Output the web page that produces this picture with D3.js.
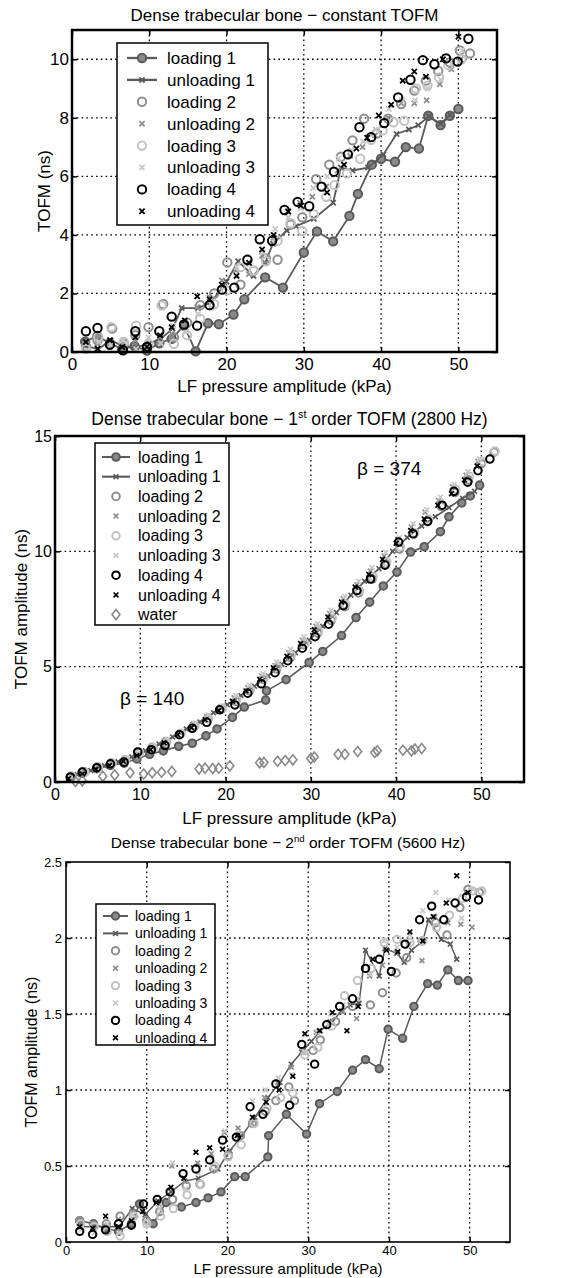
<!DOCTYPE html>
<html><head><meta charset="utf-8">
<script src="https://cdn.jsdelivr.net/npm/d3@7"></script>
<style>
body{margin:0;background:#fff}
svg{display:block}
text{font-family:"Liberation Sans",Arial,Helvetica,sans-serif;fill:#000}
</style>
</head><body><div id="chart"></div>
<script>
// ---------------- DATA ----------------
const seriesNames = ["loading 1","unloading 1","loading 2","unloading 2","loading 3","unloading 3","loading 4","unloading 4"];
const xTicks = [0,10,20,30,40,50];
const p1YTicks = [0,2,4,6,8,10];
const p2YTicks = [0,5,10,15];
const p3YTicks = [0,0.5,1,1.5,2,2.5];
const p3YTickLabels = ["0","0.5","1","1.5","2","2.5"];
const xLabel = "LF pressure amplitude (kPa)";

// Panel 1: constant TOFM (ns)
const p1Load1 = [[1.7,0.35],[3.3,0.55],[4.9,0.3],[6.5,0.1],[8.1,0.2],[9.7,0.05],[11.3,0.3],[12.9,0.45],[14.5,0.9],[16.0,0.02],[17.6,0.98],[19.0,0.95],[20.9,1.28],[22.3,1.8],[25.0,2.55],[27.3,2.2],[30.0,3.4],[31.7,4.12],[33.8,3.78],[35.9,4.65],[37.0,5.4],[38.8,6.4],[40.0,6.6],[41.8,6.5],[43.2,7.0],[44.9,6.95],[46.1,8.07],[47.7,7.75],[48.9,8.07],[50.0,8.3]];
const p1Unload1 = [[48.9,8.1],[47.7,7.8],[46.2,8.05],[44.8,7.75],[43.6,7.6],[42.0,7.45],[40.3,6.75],[38.3,6.3],[36.3,6.2],[34.8,6.3],[33.8,5.1],[31.3,4.55],[29.0,4.3],[27.8,4.15],[26.0,3.7],[25.0,3.05],[23.5,2.6],[21.5,3.1],[20.0,2.4],[18.0,1.7],[16.3,1.5],[14.2,1.5],[13.0,0.8],[11.5,0.45],[10.0,0.3],[8.3,0.15],[6.6,0.2],[5.0,0.4],[3.4,0.1],[1.8,0.2]];
const p1Load2 = [[1.8,0.2],[3.3,0.4],[5.2,0.8],[6.7,0.28],[8.2,0.57],[9.9,0.85],[11.8,1.64],[13.2,0.5],[14.9,1.0],[16.6,1.6],[18.4,2.0],[20.1,3.06],[21.8,2.3],[23.5,2.78],[25.1,3.2],[26.6,3.15],[28.3,4.35],[29.8,4.6],[31.6,5.9],[33.3,6.4],[34.8,6.67],[36.3,7.23],[37.8,7.97],[39.4,7.46],[40.9,7.97],[42.6,8.47],[44.3,8.93],[45.8,9.27],[47.4,9.6],[48.9,9.89],[50.2,10.3],[51.5,10.2]];
const p1Unload2 = [[1.8,0.28],[3.3,0.28],[4.9,0.17],[6.5,0.28],[8.2,0.4],[9.8,0.23],[11.4,0.51],[12.9,0.62],[14.7,0.96],[16.2,1.53],[17.8,1.87],[19.4,2.44],[21.2,2.78],[22.9,2.66],[24.6,3.29],[26.1,3.9],[27.9,4.8],[29.5,5.1],[31.1,5.3],[32.9,5.65],[34.4,6.2],[36.0,6.7],[37.6,7.0],[39.2,7.4],[40.9,8.0],[42.6,8.5],[44.3,8.5],[45.9,8.6],[47.6,9.15],[49.1,9.66],[50.3,10.0]];
const p1Load3 = [[1.8,0.1],[3.4,0.51],[5.1,0.85],[6.7,0.34],[8.3,0.9],[9.9,0.28],[11.6,1.59],[13.2,0.28],[14.9,0.57],[16.6,1.13],[18.4,1.64],[20.0,2.1],[21.8,2.9],[23.5,2.78],[25.1,3.1],[26.6,3.8],[28.3,4.4],[29.8,4.13],[31.3,4.7],[32.9,5.3],[34.0,5.7],[35.6,6.1],[37.3,6.6],[38.7,7.25],[40.2,7.57],[41.6,7.85],[43.0,7.9],[44.5,9.0],[46.0,9.1],[47.5,9.38],[48.7,9.8],[50.4,10.0]];
const p1Unload3 = [[1.9,0.05],[3.5,0.35],[5.0,0.25],[6.6,0.4],[8.3,0.1],[9.9,0.5],[11.5,0.3],[13.1,0.9],[14.8,0.7],[16.3,1.3],[18.0,1.5],[19.6,2.2],[21.3,2.9],[23.0,3.0],[24.7,3.4],[26.3,4.2],[28.0,4.6],[29.6,4.9],[31.2,5.6],[33.0,6.0],[34.5,6.6],[36.1,6.9],[37.7,7.2],[39.3,7.6],[41.0,8.3],[42.7,8.6],[44.4,8.6],[46.0,9.0],[47.7,9.3],[49.2,9.9],[50.5,10.3]];
const p1Load4 = [[1.8,0.71],[3.3,0.82],[4.9,0.25],[6.6,0.06],[8.2,0.71],[9.7,0.17],[11.3,0.71],[12.9,1.21],[14.5,0.94],[16.2,0.9],[17.8,1.6],[19.4,2.13],[21.0,2.2],[22.7,3.15],[24.3,3.85],[25.9,3.8],[27.5,4.85],[29.2,5.13],[30.7,4.98],[32.3,5.65],[33.9,6.16],[35.7,6.75],[37.2,7.68],[38.7,7.34],[40.4,7.82],[42.2,8.7],[43.8,9.3],[45.4,9.97],[46.9,9.83],[48.4,10.03],[49.9,9.92],[51.3,10.7]];
const p1Unload4 = [[1.8,0.34],[3.3,0.11],[4.9,0.4],[6.5,0.17],[8.2,0.5],[9.7,0.17],[11.4,0.57],[12.9,0.85],[14.6,1.08],[16.2,1.9],[17.8,1.8],[19.4,2.3],[21.3,2.6],[22.9,3.05],[24.6,3.5],[26.1,4.0],[28.0,4.8],[29.6,5.0],[33.0,5.45],[35.2,6.4],[36.8,6.95],[38.2,7.32],[39.7,8.08],[41.3,8.45],[42.8,9.27],[44.3,9.58],[45.8,9.4],[48.0,10.0],[50.0,10.77]];

// Panel 2: 1st order TOFM amplitude (ns)
const p2Load1 = [[1.8,0.19],[3.2,0.38],[4.9,0.58],[6.5,0.72],[8.1,0.82],[9.6,1.0],[11.1,1.2],[12.7,1.35],[14.5,1.55],[16.1,1.68],[17.7,2.0],[19.0,2.3],[20.8,2.8],[22.2,3.25],[24.7,3.55],[24.8,3.95],[27.1,4.44],[29.8,5.18],[31.4,5.66],[33.6,6.35],[35.3,7.13],[36.9,7.8],[38.5,8.5],[40.1,9.1],[41.7,9.97],[43.3,10.2],[45.2,10.85],[46.2,11.5],[47.7,12.1],[48.7,12.4],[49.8,12.87]];
const p2Unload1 = [[49.2,12.6],[47.8,12.3],[46.2,11.9],[44.6,11.5],[43.0,11.1],[41.3,10.6],[39.6,10.0],[38.0,9.25],[36.3,8.7],[34.7,8.1],[33.0,7.35],[31.4,6.75],[29.8,6.15],[28.2,5.6],[26.6,5.1],[25.0,4.6],[23.4,4.15],[21.8,3.75],[20.2,3.35],[18.6,3.0],[17.0,2.6],[15.4,2.3],[13.8,1.95],[12.2,1.65],[10.6,1.35],[9.0,1.08],[7.4,0.88],[5.8,0.7],[4.2,0.5],[2.6,0.32]];
const p2Load2 = [[1.9,0.25],[3.4,0.45],[5.0,0.65],[6.6,0.82],[8.2,0.95],[9.8,1.3],[11.4,1.5],[13.0,1.75],[14.7,2.1],[16.3,2.45],[17.9,2.75],[19.5,3.15],[21.2,3.5],[22.8,3.95],[24.4,4.45],[26.0,4.9],[27.6,5.4],[29.2,5.95],[30.8,6.45],[32.4,7.0],[34.0,7.6],[35.6,8.2],[37.2,8.8],[38.8,9.45],[40.4,10.1],[42.1,10.75],[43.7,11.3],[45.3,11.95],[46.9,12.55],[48.5,13.1],[50.0,13.8],[51.5,14.3]];
const p2Unload2 = [[49.6,13.9],[48.2,13.3],[46.6,12.8],[45.0,12.2],[43.4,11.7],[41.8,11.05],[40.2,10.45],[38.6,9.8],[37.0,9.15],[35.4,8.55],[33.8,7.95],[32.2,7.3],[30.6,6.75],[29.0,6.15],[27.4,5.6],[25.8,5.05],[24.2,4.6],[22.6,4.1],[21.0,3.65],[19.4,3.25],[17.8,2.85],[16.2,2.5],[14.6,2.15],[13.0,1.8],[11.4,1.5],[9.8,1.2],[8.2,0.95],[6.6,0.75],[5.0,0.55],[3.4,0.35],[1.8,0.18]];
const p2Load3 = [[2.0,0.24],[3.5,0.42],[5.1,0.62],[6.7,0.8],[8.3,0.95],[9.9,1.25],[11.5,1.48],[13.1,1.72],[14.8,2.1],[16.4,2.42],[18.0,2.75],[19.6,3.2],[21.3,3.55],[22.9,4.0],[24.5,4.5],[26.1,5.0],[27.7,5.5],[29.3,6.0],[30.9,6.55],[32.5,7.1],[34.1,7.7],[35.7,8.3],[37.3,8.9],[38.9,9.55],[40.5,10.2],[42.2,10.8],[43.8,11.4],[45.4,12.0],[47.0,12.7],[48.6,13.25],[50.1,13.9],[51.6,14.35]];
const p2Unload3 = [[49.8,14.0],[48.4,13.45],[46.8,12.9],[45.2,12.35],[43.6,11.8],[42.0,11.2],[40.4,10.6],[38.8,9.95],[37.2,9.3],[35.6,8.7],[34.0,8.05],[32.4,7.45],[30.8,6.85],[29.2,6.3],[27.6,5.75],[26.0,5.2],[24.4,4.7],[22.8,4.2],[21.2,3.75],[19.6,3.3],[18.0,2.9],[16.4,2.55],[14.8,2.2],[13.2,1.85],[11.6,1.55],[10.0,1.25],[8.4,1.0],[6.8,0.78],[5.2,0.58],[3.6,0.38],[2.0,0.2]];
const p2Load4 = [[1.8,0.22],[3.2,0.43],[4.9,0.62],[6.5,0.79],[8.1,0.86],[9.7,1.3],[11.3,1.4],[12.9,1.58],[14.6,2.05],[16.1,2.33],[17.8,2.59],[19.3,3.13],[21.1,3.34],[22.6,3.85],[24.2,4.26],[25.8,4.74],[27.3,5.26],[29.0,5.8],[30.5,6.3],[32.1,6.84],[33.8,7.65],[35.4,8.3],[37.0,8.8],[38.7,9.4],[40.3,10.4],[42.0,10.76],[43.7,11.3],[45.4,12.0],[46.8,12.6],[48.4,13.0],[49.6,13.5],[51.0,14.0]];
const p2Unload4 = [[49.5,13.7],[48.0,13.1],[46.5,12.5],[44.9,12.0],[43.3,11.4],[41.7,10.9],[40.0,10.35],[38.4,9.65],[36.8,9.0],[35.2,8.45],[33.6,7.8],[32.0,7.15],[30.4,6.6],[28.8,6.0],[27.2,5.45],[25.6,4.95],[24.0,4.45],[22.4,3.95],[20.8,3.5],[19.2,3.1],[17.6,2.7],[16.0,2.35],[14.4,2.05],[12.8,1.7],[11.2,1.4],[9.6,1.15],[8.0,0.9],[6.4,0.72],[4.8,0.55],[3.2,0.35],[1.6,0.15]];
const p2Water = [[2.4,0.02],[3.2,0.05],[5.6,0.25],[7.0,0.3],[8.8,0.4],[10.4,0.35],[11.4,0.4],[12.5,0.42],[13.7,0.46],[16.9,0.57],[17.6,0.6],[18.5,0.58],[19.2,0.6],[20.5,0.7],[24.0,0.83],[24.5,0.85],[26.1,0.9],[27.0,0.93],[27.9,0.96],[30.0,1.02],[30.4,1.08],[33.2,1.2],[34.0,1.2],[35.5,1.32],[37.5,1.28],[37.8,1.35],[40.8,1.38],[41.8,1.35],[42.2,1.43],[43.0,1.45]];
const p2Annotations = ["β = 374","β = 140"];

// Panel 3: 2nd order TOFM amplitude (ns)
const p3Load1 = [[1.7,0.14],[3.4,0.12],[4.9,0.09],[6.5,0.07],[8.1,0.12],[9.1,0.25],[10.8,0.12],[12.4,0.26],[14.3,0.23],[16.1,0.26],[17.6,0.29],[19.2,0.33],[20.9,0.43],[22.2,0.43],[25.0,0.56],[25.1,0.70],[27.3,0.84],[29.8,0.71],[31.4,0.91],[33.6,0.99],[35.5,1.13],[37.1,1.2],[38.8,1.14],[39.9,1.4],[41.7,1.34],[43.1,1.55],[44.8,1.7],[46.0,1.69],[47.3,1.79],[48.6,1.72],[49.8,1.72]];
const p3Unload1 = [[48.4,1.86],[47.6,1.96],[46.5,1.99],[44.9,2.12],[44.2,1.98],[42.8,1.92],[41.9,1.84],[41.0,1.9],[39.5,1.93],[38.8,1.75],[37.1,1.92],[36.3,1.57],[35.2,1.56],[34.1,1.52],[33.0,1.45],[31.5,1.39],[30.4,1.32],[29.2,1.25],[27.9,1.17],[26.5,1.05],[25.0,0.95],[23.4,0.82],[21.8,0.70],[20.3,0.6],[18.8,0.48],[16.4,0.42],[14.7,0.40],[13.0,0.33],[11.4,0.27],[9.8,0.18],[8.2,0.22],[6.6,0.1],[5.0,0.1],[3.4,0.1],[1.8,0.1]];
const p3Load2 = [[1.7,0.14],[3.4,0.11],[5.0,0.12],[6.7,0.17],[8.3,0.18],[10.0,0.14],[11.6,0.2],[13.2,0.28],[14.9,0.37],[16.6,0.38],[18.3,0.48],[20.1,0.57],[21.6,0.7],[23.1,0.78],[24.7,0.86],[26.0,0.93],[27.6,1.02],[28.3,0.93],[30.6,1.26],[31.5,1.33],[33.4,1.45],[35.5,1.55],[37.7,1.56],[39.2,1.64],[40.9,1.77],[42.2,1.87],[44.1,1.98],[45.8,2.1],[47.2,2.02],[48.8,2.2],[49.8,2.32],[51.2,2.3]];
const p3Unload2 = [[1.8,0.1],[3.3,0.12],[5.0,0.1],[6.5,0.15],[8.2,0.2],[9.8,0.13],[11.5,0.25],[13.1,0.5],[14.7,0.4],[16.3,0.52],[18.0,0.58],[19.6,0.72],[21.3,0.75],[23.0,0.78],[24.6,0.95],[26.2,1.05],[27.9,1.15],[29.4,1.25],[31.0,1.38],[32.7,1.45],[34.3,1.52],[36.0,1.47],[37.6,1.75],[39.2,1.82],[40.9,1.9],[42.5,1.96],[44.1,1.85],[45.7,2.14],[47.3,2.1],[48.9,2.09],[50.3,2.07]];
const p3Load3 = [[1.8,0.12],[3.5,0.1],[5.1,0.07],[6.7,0.04],[8.4,0.17],[10.0,0.12],[11.7,0.17],[13.3,0.22],[15.0,0.31],[16.7,0.38],[18.4,0.5],[20.1,0.56],[21.7,0.64],[23.3,0.78],[24.9,0.88],[26.6,0.95],[28.1,0.98],[29.6,1.23],[31.2,1.28],[32.9,1.42],[34.5,1.62],[36.1,1.72],[37.8,1.8],[39.4,1.97],[41.0,1.99],[42.6,1.97],[44.2,1.98],[45.9,2.07],[47.5,2.15],[49.1,2.26],[50.3,2.31],[51.5,2.31]];
const p3Unload3 = [[1.9,0.08],[3.5,0.06],[5.1,0.12],[6.6,0.06],[8.3,0.18],[9.9,0.11],[11.6,0.22],[13.2,0.52],[14.8,0.35],[16.4,0.45],[18.1,0.55],[19.7,0.73],[21.4,0.72],[23.1,0.93],[24.7,1.0],[26.3,1.08],[28.0,1.1],[29.6,1.25],[31.2,1.38],[32.8,1.5],[34.4,1.56],[36.1,1.6],[37.7,1.76],[39.4,1.98],[41.0,1.94],[42.6,2.02],[44.2,2.18],[45.8,2.3],[47.4,2.25],[49.0,2.13],[50.4,2.32]];
const p3Load4 = [[1.7,0.07],[3.3,0.05],[4.9,0.08],[6.5,0.12],[8.1,0.11],[9.6,0.25],[11.3,0.28],[12.9,0.33],[14.5,0.45],[16.1,0.48],[17.8,0.54],[19.4,0.67],[21.1,0.69],[22.8,0.89],[24.4,0.84],[26.0,1.04],[27.7,0.9],[29.2,1.3],[30.8,1.17],[32.3,1.43],[33.9,1.55],[35.5,1.6],[37.1,1.8],[38.8,1.86],[40.3,1.78],[42.0,1.96],[43.8,2.12],[45.3,2.21],[46.8,2.12],[48.2,2.23],[49.6,2.27],[51.1,2.25]];
const p3Unload4 = [[1.7,0.1],[3.3,0.09],[4.9,0.17],[6.5,0.1],[8.1,0.14],[9.5,0.2],[11.2,0.26],[13.0,0.36],[14.6,0.42],[16.1,0.59],[17.8,0.62],[19.4,0.61],[21.2,0.7],[23.1,0.82],[24.8,0.92],[26.4,1.0],[28.1,1.09],[29.6,1.37],[31.4,1.39],[33.0,1.51],[34.8,1.39],[36.2,1.55],[38.0,1.86],[39.7,1.92],[41.1,1.91],[42.6,2.04],[44.2,1.98],[45.5,2.14],[47.1,2.23],[48.4,2.41],[49.8,2.3]];

// ---------------- DRAWING ----------------
const W = 566, H = 1278;
const svg = d3.select("#chart").append("svg").attr("width", W).attr("height", H);

const styles = {
  "loading 1":   {mk:"o", fill:"#8a8a8a", stroke:"#5a5a5a", line:"#5a5a5a"},
  "unloading 1": {mk:"x", stroke:"#5a5a5a", line:"#5a5a5a"},
  "loading 2":   {mk:"o", stroke:"#8e8e8e"},
  "unloading 2": {mk:"x", stroke:"#8e8e8e"},
  "loading 3":   {mk:"o", stroke:"#c2c2c2"},
  "unloading 3": {mk:"x", stroke:"#c8c8c8"},
  "loading 4":   {mk:"o", stroke:"#000"},
  "unloading 4": {mk:"x", stroke:"#000"},
  "water":       {mk:"d", stroke:"#8a8a8a"}
};

function drawMarker(g, st, cx, cy, cfg) {
  const r = cfg.ms;
  if (st.mk === "o") {
    g.append("circle").attr("cx", cx).attr("cy", cy).attr("r", r)
      .attr("fill", st.fill || "none").attr("stroke", st.stroke).attr("stroke-width", cfg.msw);
  } else if (st.mk === "x") {
    const s = cfg.xs;
    g.append("path").attr("d", `M${cx-s},${cy-s}L${cx+s},${cy+s}M${cx-s},${cy+s}L${cx+s},${cy-s}`)
      .attr("stroke", st.stroke).attr("stroke-width", cfg.xsw).attr("fill", "none");
  } else {
    const s = cfg.ds;
    g.append("path").attr("d", `M${cx},${cy-s}L${cx+s*0.8},${cy}L${cx},${cy+s}L${cx-s*0.8},${cy}Z`)
      .attr("stroke", st.stroke).attr("stroke-width", 1.6).attr("fill", "none");
  }
}

function panel(cfg, names, datasets) {
  const x = d3.scaleLinear().domain([0, 55]).range([cfg.l, cfg.r]);
  const y = d3.scaleLinear().domain([0, cfg.ymax]).range([cfg.b, cfg.t]);
  const g = svg.append("g");

  // grid
  g.selectAll(null).data(xTicks.filter(v => v > 0 && v < 55)).join("line")
    .attr("x1", d => x(d)).attr("x2", d => x(d)).attr("y1", cfg.t).attr("y2", cfg.b)
    .attr("stroke", "#000").attr("stroke-width", 1.3).attr("stroke-dasharray", "1.6,3.2");
  g.selectAll(null).data(cfg.yTicks.filter(v => v > 0 && v < cfg.ymax)).join("line")
    .attr("y1", d => y(d)).attr("y2", d => y(d)).attr("x1", cfg.l).attr("x2", cfg.r)
    .attr("stroke", "#000").attr("stroke-width", 1.3).attr("stroke-dasharray", "1.6,3.2");

  // series
  names.forEach((nm, i) => {
    const st = styles[nm], d = datasets[i];
    const sg = g.append("g");
    if (st.line) {
      sg.append("path").datum(d)
        .attr("d", d3.line().x(p => x(p[0])).y(p => y(p[1])))
        .attr("fill", "none").attr("stroke", st.line).attr("stroke-width", cfg.lw);
    }
    d.forEach(p => drawMarker(sg, st, x(p[0]), y(p[1]), cfg));
  });

  // axes
  const fmt = cfg.yFmt || (d => d);
  const ax = g.append("g").attr("transform", `translate(0,${cfg.b})`)
    .call(d3.axisBottom(x).tickValues(xTicks).tickSize(-5).tickSizeOuter(0).tickPadding(cfg.xpad));
  const ay = g.append("g").attr("transform", `translate(${cfg.l},0)`)
    .call(d3.axisLeft(y).tickValues(cfg.yTicks).tickFormat(fmt).tickSize(-5).tickSizeOuter(0).tickPadding(cfg.ypad));
  const at = g.append("g").attr("transform", `translate(0,${cfg.t})`)
    .call(d3.axisTop(x).tickValues(xTicks).tickSize(-5).tickSizeOuter(0).tickFormat(""));
  const ar = g.append("g").attr("transform", `translate(${cfg.r},0)`)
    .call(d3.axisRight(y).tickValues(cfg.yTicks).tickSize(-5).tickSizeOuter(0).tickFormat(""));
  [ax, ay, at, ar].forEach(a => {
    a.select(".domain").remove();
    a.attr("font-family", null).attr("font-size", null);
    a.selectAll("line").attr("stroke", "#000").attr("stroke-width", 1.5);
    a.selectAll("text").style("font-size", cfg.tickFs + "px").attr("fill", "#000");
  });

  // border
  g.append("rect").attr("x", cfg.l).attr("y", cfg.t).attr("width", cfg.r - cfg.l).attr("height", cfg.b - cfg.t)
    .attr("fill", "none").attr("stroke", "#000").attr("stroke-width", cfg.bw);

  // title
  const tt = g.append("text").attr("x", (cfg.l + cfg.r) / 2).attr("y", cfg.titleY)
    .attr("text-anchor", "middle").style("font-size", cfg.titleFs + "px");
  tt.append("tspan").text(cfg.title[0]);
  if (cfg.title.length > 1) {
    tt.append("tspan").text(cfg.title[1]).attr("dy", -cfg.titleFs * 0.4).style("font-size", (cfg.titleFs * 0.62) + "px");
    tt.append("tspan").text(cfg.title[2]).attr("dy", cfg.titleFs * 0.4);
  }

  // axis labels
  g.append("text").attr("x", (cfg.l + cfg.r) / 2).attr("y", cfg.xLabelY).attr("text-anchor", "middle")
    .style("font-size", cfg.labelFs + "px").text(xLabel);
  g.append("text").attr("transform", `translate(${cfg.yLabelX},${(cfg.t + cfg.b) / 2}) rotate(-90)`)
    .attr("text-anchor", "middle").style("font-size", (cfg.yLabelFs || cfg.labelFs) + "px").text(cfg.yLabel);

  // legend
  const L = cfg.legend;
  const lg = g.append("g");
  lg.append("rect").attr("x", L.x0).attr("y", L.y0).attr("width", L.x1 - L.x0).attr("height", L.y1 - L.y0)
    .attr("fill", "#fff").attr("stroke", "#000").attr("stroke-width", L.bw);
  names.forEach((nm, i) => {
    const st = styles[nm];
    const yy = L.first + i * L.step;
    if (st.line) {
      lg.append("line").attr("x1", L.lx0).attr("x2", L.lx1).attr("y1", yy).attr("y2", yy)
        .attr("stroke", st.line).attr("stroke-width", cfg.lw + 0.5);
    }
    drawMarker(lg, st, (L.lx0 + L.lx1) / 2, yy, cfg);
    lg.append("text").attr("x", L.tx).attr("y", yy).attr("dy", "0.35em")
      .style("font-size", L.fs + "px").text(nm);
  });
  return {x, y, g};
}

// Panel 1
panel({
  l: 72, r: 497, t: 30, b: 352, ymax: 11, yTicks: p1YTicks,
  title: ["Dense trabecular bone \u2212 constant TOFM"], titleY: 21, titleFs: 17,
  xLabelY: 392, yLabelX: 50, yLabel: "TOFM (ns)", labelFs: 17,
  tickFs: 17, xpad: 6, ypad: 3, bw: 2.5, lw: 1.8,
  ms: 4.2, msw: 2, xs: 2.6, xsw: 1.8, ds: 5,
  legend: {x0: 117, x1: 268, y0: 43, y1: 225, first: 58, step: 21.9, lx0: 127, lx1: 157, tx: 167, fs: 17, bw: 1.5}
}, seriesNames, [p1Load1, p1Unload1, p1Load2, p1Unload2, p1Load3, p1Unload3, p1Load4, p1Unload4]);

// Panel 2
const P2 = panel({
  l: 55, r: 524, t: 436, b: 782, ymax: 15, yTicks: p2YTicks,
  title: ["Dense trabecular bone \u2212 1", "st", " order TOFM (2800 Hz)"], titleY: 425, titleFs: 17.5,
  xLabelY: 824, yLabelX: 27, yLabel: "TOFM amplitude (ns)", labelFs: 17,
  tickFs: 16, xpad: 7, ypad: 3, bw: 2.5, lw: 1.6,
  ms: 3.8, msw: 2, xs: 2.4, xsw: 1.7, ds: 5,
  legend: {x0: 95, x1: 229, y0: 443, y1: 625, first: 457, step: 19.7, lx0: 102, lx1: 130, tx: 138, fs: 16, bw: 1.5}
}, seriesNames.concat(["water"]), [p2Load1, p2Unload1, p2Load2, p2Unload2, p2Load3, p2Unload3, p2Load4, p2Unload4, p2Water]);
P2.g.append("text").attr("x", 357).attr("y", 475).style("font-size", "19px").text(p2Annotations[0]);
P2.g.append("text").attr("x", 120).attr("y", 705).style("font-size", "19px").text(p2Annotations[1]);

// Panel 3
panel({
  l: 66, r: 510, t: 862, b: 1242, ymax: 2.5, yTicks: p3YTicks, yFmt: (d, i) => p3YTickLabels[i],
  title: ["Dense trabecular bone \u2212 2", "nd", " order TOFM (5600 Hz)"], titleY: 848, titleFs: 15.5,
  xLabelY: 1274, yLabelX: 37, yLabel: "TOFM amplitude (ns)", labelFs: 15, yLabelFs: 16,
  tickFs: 13, xpad: 4, ypad: 4, bw: 1.6, lw: 1.5,
  ms: 3.7, msw: 2, xs: 2.4, xsw: 1.7, ds: 5,
  legend: {x0: 96, x1: 215, y0: 904, y1: 1045, first: 916, step: 17.4, lx0: 103, lx1: 128, tx: 135, fs: 14, bw: 1.5}
}, seriesNames, [p3Load1, p3Unload1, p3Load2, p3Unload2, p3Load3, p3Unload3, p3Load4, p3Unload4]);
</script>
</body></html>
